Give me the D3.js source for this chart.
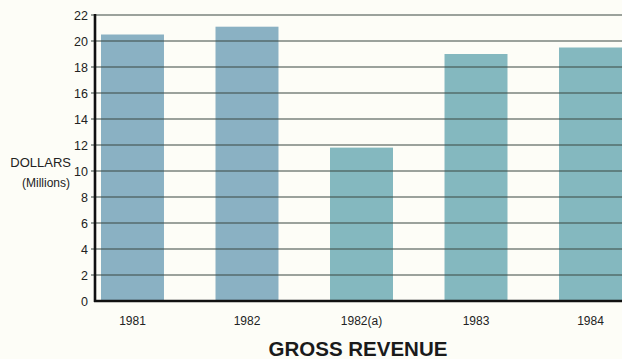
<!DOCTYPE html>
<html>
<head>
<meta charset="utf-8">
<script src="https://cdn.jsdelivr.net/npm/d3@7"></script>
<style>
  body { margin: 0; background: #fdfdf7; }
  svg { display: block; font-family: "Liberation Sans", Arial, sans-serif; }
</style>
</head>
<body>
<div class="chart"></div>
<script>
// Values
const years = ["1981", "1982", "1982(a)", "1983", "1984"]
const revenue = [20.5, 21.1, 11.8, 19.0, 19.5]
const yTicks = [0, 2, 4, 6, 8, 10, 12, 14, 16, 18, 20, 22]

const width = 622, height = 359
const svg = d3.select(".chart").append("svg")
  .attr("width", width)
  .attr("height", height)

svg.append("rect").attr("width", width).attr("height", height).attr("fill", "#fdfdf7")

// scales
const x = d3.scaleBand()
  .domain(years)
  .range([101, 622])
  .paddingInner(0.45)
  .paddingOuter(0)

const y = d3.scaleLinear()
  .domain([0, 22])
  .range([301, 15])

const barColor = (d, i) => i < 2 ? "#8ab1c3" : "#84b8bf"

// bars
svg.append("g")
  .selectAll("rect")
  .data(revenue)
  .enter()
  .append("rect")
  .attr("x", (d, i) => x(years[i]))
  .attr("y", d => y(d))
  .attr("width", x.bandwidth())
  .attr("height", d => y(0) - y(d))
  .attr("fill", barColor)

// gridlines sit on top of the bars
svg.append("g")
  .selectAll("line")
  .data(yTicks.filter(t => t > 0))
  .enter()
  .append("line")
  .attr("x1", 91)
  .attr("x2", width)
  .attr("y1", d => y(d))
  .attr("y2", d => y(d))
  .attr("stroke", "#3a4842")
  .attr("stroke-width", 1.2)

// y axis labels
const yAxis = d3.axisLeft(y).tickValues(yTicks).tickSize(0).tickPadding(7)
const yg = svg.append("g")
  .attr("transform", "translate(95,0)")
  .call(yAxis)
yg.select(".domain").remove()
yg.selectAll("text")
  .attr("font-size", 12.5)
  .attr("fill", "#222")
  .attr("font-family", "Liberation Sans, Arial, sans-serif")

// axis lines
svg.append("line")
  .attr("x1", 95).attr("x2", 95)
  .attr("y1", y(22) - 1).attr("y2", y(0) + 1)
  .attr("stroke", "#111").attr("stroke-width", 2.6)
svg.append("line")
  .attr("x1", 94).attr("x2", width)
  .attr("y1", y(0)).attr("y2", y(0))
  .attr("stroke", "#111").attr("stroke-width", 2.6)

// x labels
const xAxis = d3.axisBottom(x).tickSize(0).tickPadding(15)
const xg = svg.append("g")
  .attr("transform", `translate(0, ${y(0)})`)
  .call(xAxis)
xg.select(".domain").remove()
xg.selectAll("text")
  .attr("font-size", 12)
  .attr("fill", "#222")
  .attr("font-family", "Liberation Sans, Arial, sans-serif")

// y title
svg.append("text")
  .attr("x", 71).attr("y", 167)
  .attr("text-anchor", "end")
  .attr("font-size", 13)
  .attr("fill", "#222")
  .text("DOLLARS")
svg.append("text")
  .attr("x", 70).attr("y", 187)
  .attr("text-anchor", "end")
  .attr("font-size", 12)
  .attr("fill", "#222")
  .text("(Millions)")

// chart title
svg.append("text")
  .attr("x", 358).attr("y", 356)
  .attr("text-anchor", "middle")
  .attr("font-size", 20.5)
  .attr("font-weight", "bold")
  .attr("fill", "#1a1a1a")
  .text("GROSS REVENUE")
</script>
</body>
</html>
